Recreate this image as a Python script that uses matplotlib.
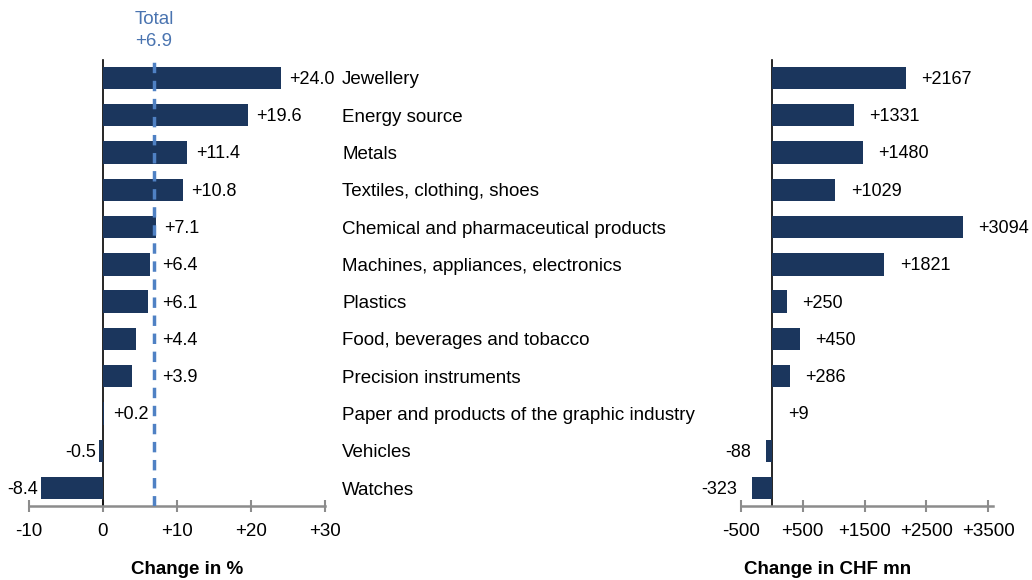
import matplotlib.pyplot as plt
from matplotlib.transforms import blended_transform_factory

plt.rcParams['font.family'] = ['Liberation Sans', 'DejaVu Sans']

# Data
categories = ["Jewellery", "Energy source", "Metals", "Textiles, clothing, shoes",
              "Chemical and pharmaceutical products", "Machines, appliances, electronics",
              "Plastics", "Food, beverages and tobacco", "Precision instruments",
              "Paper and products of the graphic industry", "Vehicles", "Watches"]
pct_change = [24.0, 19.6, 11.4, 10.8, 7.1, 6.4, 6.1, 4.4, 3.9, 0.2, -0.5, -8.4]
chf_change = [2167, 1331, 1480, 1029, 3094, 1821, 250, 450, 286, 9, -88, -323]
total_pct = 6.9
pct_ticks = [-10, 0, 10, 20, 30]
chf_ticks = [-500, 500, 1500, 2500, 3500]

bar_color = "#1b365d"
line_color = "#4f81c4"
axis_grey = "#8c8c8c"
fs = 13.5
vfs = 13  # value labels

W, H = 1032, 580
fig = plt.figure(figsize=(W / 100, H / 100), dpi=100)

top_px, bot_px = 60, 506
ax1 = fig.add_axes([29 / W, (H - bot_px) / H, (325 - 29) / W, (bot_px - top_px) / H])
ax2 = fig.add_axes([741 / W, (H - bot_px) / H, (993 - 741) / W, (bot_px - top_px) / H])

ypos = list(range(len(categories)))


def style(ax, ticks, labels, xlim):
    ax.set_xlim(*xlim)
    ax.set_ylim(len(categories) - 0.52, -0.48)
    for s in ["top", "right"]:
        ax.spines[s].set_visible(False)
    ax.spines["left"].set_position(("data", 0))
    ax.spines["left"].set_color("black")
    ax.spines["left"].set_linewidth(1.2)
    ax.spines["bottom"].set_color(axis_grey)
    ax.spines["bottom"].set_linewidth(1.8)
    ax.set_yticks([])
    ax.set_xticks(ticks)
    ax.set_xticklabels(labels, fontsize=fs)
    ax.tick_params(axis="x", direction="inout", length=9, width=1.5,
                   color=axis_grey, pad=8)


# Left panel: change in %
ax1.barh(ypos, pct_change, height=0.6, color=bar_color, zorder=3)
style(ax1, pct_ticks, ["+%d" % t if t > 0 else "%d" % t for t in pct_ticks], (-10, 30))
ax1.axvline(total_pct, color=line_color, linestyle=(0, (3, 2.2)), linewidth=2.5, zorder=4)
ax1.text(total_pct, 1 + (60 - 19) / (bot_px - top_px), "Total",
         transform=ax1.get_xaxis_transform(), ha="center", va="center",
         color="#4a74b0", fontsize=fs)
ax1.text(total_pct, 1 + (60 - 42) / (bot_px - top_px), "+%.1f" % total_pct,
         transform=ax1.get_xaxis_transform(), ha="center", va="center",
         color="#4a74b0", fontsize=fs)
for y, v in zip(ypos, pct_change):
    if v >= 0:
        # keep labels clear of the dashed total line
        anchor = max(v, total_pct) if v > 1 else v
        ax1.annotate("+%.1f" % v, (anchor, y), xytext=(6, -1), textcoords="offset points",
                     ha="left", va="center", fontsize=vfs)
    else:
        ax1.annotate("%.1f" % v, (v, y), xytext=(-2, -1), textcoords="offset points",
                     ha="right", va="center", fontsize=vfs)

# Category labels between the panels
trans = blended_transform_factory(fig.transFigure, ax1.transData)
for y, c in zip(ypos, categories):
    ax1.text(342 / W, y, c, transform=trans, ha="left", va="center_baseline",
             fontsize=fs, clip_on=False)

# Right panel: change in CHF mn
ax2.barh(ypos, chf_change, height=0.6, color=bar_color, zorder=3)
style(ax2, chf_ticks, ["+%d" % t if t > 0 else "%d" % t for t in chf_ticks], (-500, 3580))
for y, v in zip(ypos, chf_change):
    if v >= 0:
        ax2.annotate("+%d" % v, (v, y), xytext=(11, -1), textcoords="offset points",
                     ha="left", va="center", fontsize=vfs)
    else:
        ax2.annotate("%d" % v, (v, y), xytext=(-11, -1), textcoords="offset points",
                     ha="right", va="center", fontsize=vfs)

fig.text(187 / W, 1 - 570 / H, "Change in %", ha="center", va="center",
         fontsize=fs, fontweight="bold")
fig.text(828 / W, 1 - 570 / H, "Change in CHF mn", ha="center", va="center",
         fontsize=fs, fontweight="bold")

fig.savefig("out.png", dpi=100)
